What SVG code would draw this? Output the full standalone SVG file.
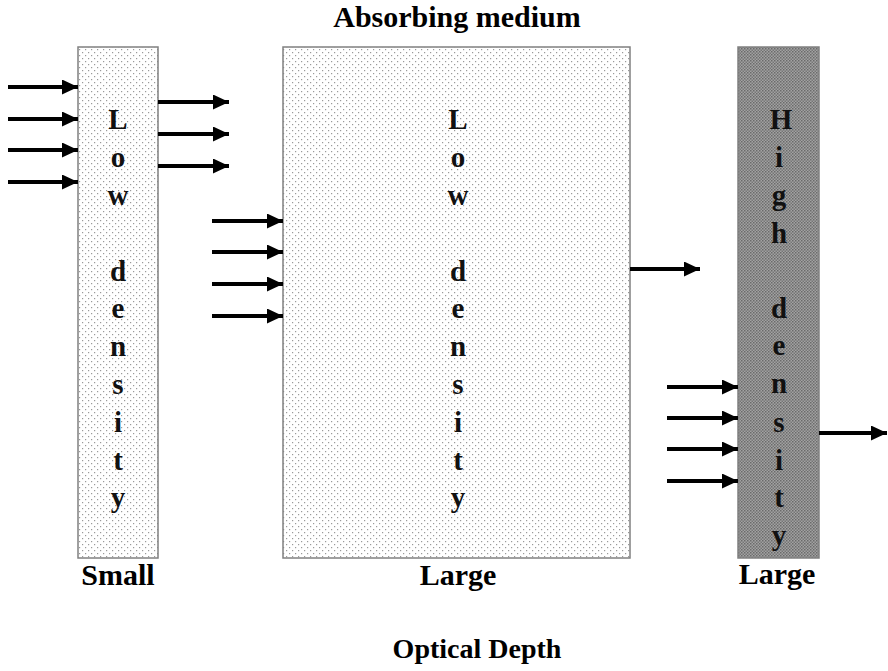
<svg xmlns="http://www.w3.org/2000/svg" width="888" height="671" viewBox="0 0 888 671">
  <style>
    .t { font-family: "Liberation Serif", "Times New Roman", serif; font-weight: bold; font-size: 30px; fill: #000; text-anchor: middle; }
    .v { font-family: "Liberation Serif", "Times New Roman", serif; font-weight: bold; font-size: 29px; fill: #111; text-anchor: middle; }
    .box { stroke: #808080; stroke-width: 1.5; }
    .arrow { stroke: #000; stroke-width: 3.8; fill: none; marker-end: url(#head); }
  </style>
  <defs>
    <!-- sparse dot screen for the low density medium -->
    <pattern id="dots" width="6" height="6" patternUnits="userSpaceOnUse">
      <rect width="6" height="6" fill="#ffffff"/>
      <rect x="1" y="1" width="1.2" height="1.2" fill="#9a9a9a"/>
      <rect x="4" y="4" width="1.2" height="1.2" fill="#9a9a9a"/>
    </pattern>
    <!-- dense checker screen for the high density medium -->
    <pattern id="dense" width="3" height="3" patternUnits="userSpaceOnUse">
      <rect width="3" height="3" fill="#a2a2a2"/>
      <rect x="0" y="0" width="1.5" height="1.5" fill="#6a6a6a"/>
      <rect x="1.5" y="1.5" width="1.5" height="1.5" fill="#767676"/>
    </pattern>
    <marker id="head" viewBox="0 0 16 15" refX="16" refY="7.5" markerWidth="16" markerHeight="15" markerUnits="userSpaceOnUse" orient="auto">
      <path d="M0,0 L16,7.5 L0,15 Z" fill="#000"/>
    </marker>
  </defs>

  <text class="t" x="457" y="27">Absorbing medium</text>

  <g id="slab-small">
    <rect class="box" x="78" y="47" width="80" height="511" fill="url(#dots)"/>
    <text class="v" x="118" y="129">L</text>
    <text class="v" x="118" y="167">o</text>
    <text class="v" x="118" y="205">w</text>
    <text class="v" x="118" y="281">d</text>
    <text class="v" x="118" y="318">e</text>
    <text class="v" x="118" y="356">n</text>
    <text class="v" x="118" y="394">s</text>
    <text class="v" x="118" y="432">i</text>
    <text class="v" x="118" y="470">t</text>
    <text class="v" x="118" y="507">y</text>
    <text class="t" x="118" y="585">Small</text>
  </g>

  <g id="slab-large-low">
    <rect class="box" x="283" y="47" width="347" height="511" fill="url(#dots)"/>
    <text class="v" x="458" y="129">L</text>
    <text class="v" x="458" y="167">o</text>
    <text class="v" x="458" y="205">w</text>
    <text class="v" x="458" y="281">d</text>
    <text class="v" x="458" y="318">e</text>
    <text class="v" x="458" y="356">n</text>
    <text class="v" x="458" y="394">s</text>
    <text class="v" x="458" y="432">i</text>
    <text class="v" x="458" y="470">t</text>
    <text class="v" x="458" y="507">y</text>
    <text class="t" x="458" y="585">Large</text>
  </g>

  <g id="slab-large-high">
    <rect class="box" x="738" y="47" width="81" height="511" fill="url(#dense)"/>
    <text class="v" x="781" y="129">H</text>
    <text class="v" x="779" y="167">i</text>
    <text class="v" x="779" y="205">g</text>
    <text class="v" x="779" y="243">h</text>
    <text class="v" x="779" y="318">d</text>
    <text class="v" x="779" y="355">e</text>
    <text class="v" x="779" y="393">n</text>
    <text class="v" x="779" y="432">s</text>
    <text class="v" x="779" y="470">i</text>
    <text class="v" x="779" y="507">t</text>
    <text class="v" x="779" y="545">y</text>
    <text class="t" x="777" y="584">Large</text>
  </g>

  <g id="rays">
    <line class="arrow" x1="8" y1="87" x2="78" y2="87"/>
    <line class="arrow" x1="8" y1="119" x2="78" y2="119"/>
    <line class="arrow" x1="8" y1="150" x2="78" y2="150"/>
    <line class="arrow" x1="8" y1="182" x2="78" y2="182"/>
    <line class="arrow" x1="158" y1="102" x2="229" y2="102"/>
    <line class="arrow" x1="158" y1="134" x2="229" y2="134"/>
    <line class="arrow" x1="158" y1="166" x2="229" y2="166"/>
    <line class="arrow" x1="212" y1="221" x2="283" y2="221"/>
    <line class="arrow" x1="212" y1="252" x2="283" y2="252"/>
    <line class="arrow" x1="212" y1="284" x2="283" y2="284"/>
    <line class="arrow" x1="212" y1="316" x2="283" y2="316"/>
    <line class="arrow" x1="630" y1="269" x2="700" y2="269"/>
    <line class="arrow" x1="667" y1="387" x2="738" y2="387"/>
    <line class="arrow" x1="667" y1="418" x2="738" y2="418"/>
    <line class="arrow" x1="667" y1="449" x2="738" y2="449"/>
    <line class="arrow" x1="667" y1="481" x2="738" y2="481"/>
    <line class="arrow" x1="819" y1="433" x2="887" y2="433"/>
  </g>

  <text class="t" x="477" y="658" style="font-size:28px">Optical Depth</text>
</svg>
